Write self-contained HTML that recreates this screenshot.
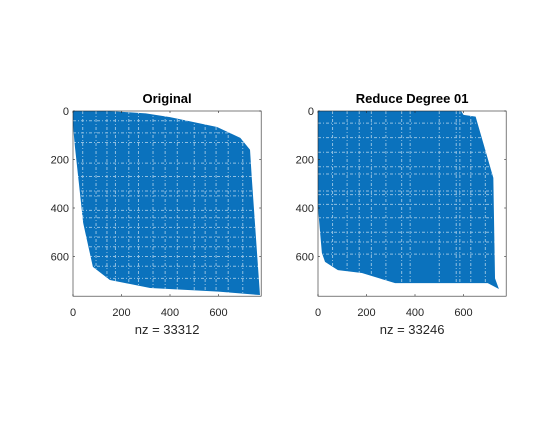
<!DOCTYPE html>
<html><head><meta charset="utf-8"><style>
body{margin:0;background:#fff;width:560px;height:420px;overflow:hidden}
svg text{font-family:"Liberation Sans",Arial,sans-serif;fill:#262626}
</style></head><body>
<svg width="560" height="420">
<g id="p1"></g>
<g id="p2"></g>
</svg>
<script>
// sparsity outlines in data units [col,row]
const origOutline=[[0,0],[150,0],[300,10],[400,25],[594,66],[690,111],[730,160],[737,272],[771,759],[600,745],[318,730],[152,697],[82,643],[42,462],[8,148],[0,60]];
const redOutline=[[0,0],[590,0],[600,16],[650,23],[723,276],[730,690],[746,734],[700,710],[318,710],[181,668],[82,656],[29,622],[16,585],[0,400]];
const origGapRows=[40,90,130,215,270,330,350,410,440,480,520,560,600,640,690];
const origGapCols=[40,95,140,175,230,270,330,380,430,500,545,590,640,700];
const redGapRows=[50,110,170,230,260,330,345,385,440,500,540,590];
const redGapCols=[60,120,170,220,280,345,380,500,570,585,630,690];
const ticks=[0,200,400,600];
const plots=[
 {id:'p1',x0:73,title:'Original',nz:'nz = 33312',outline:origOutline,rows:origGapRows,cols:origGapCols},
 {id:'p2',x0:318,title:'Reduce Degree 01',nz:'nz = 33246',outline:redOutline,rows:redGapRows,cols:redGapCols}
];
const NS='http://www.w3.org/2000/svg';
const y0=111, N=776, S=0.2425;
function mk(g,t,a){const e=document.createElementNS(NS,t);for(const k in a)e.setAttribute(k,a[k]);g.appendChild(e);return e;}
plots.forEach(p=>{
 const g=document.getElementById(p.id);
 const sx=c=>p.x0+c*S, sy=r=>y0+r*S;
 const W=N*S;
 const cp=mk(g,'clipPath',{id:'c'+p.id});
 mk(cp,'polygon',{points:p.outline.map(d=>sx(d[0])+','+sy(d[1])).join(' ')});
 const poly=mk(g,'polygon',{points:p.outline.map(d=>sx(d[0])+','+sy(d[1])).join(' '),fill:'#0b72bd'});
 
 
 const gg=mk(g,'g',{'clip-path':'url(#c'+p.id+')',stroke:'#fff','stroke-width':'1',opacity:'0.55','stroke-dasharray':'3 2 1 2'});
 p.rows.forEach(r=>{const l=mk(gg,'line',{x1:sx(0),x2:sx(N),y1:sy(r),y2:sy(r)});
  
  });
 p.cols.forEach(c=>{const l=mk(gg,'line',{x1:sx(c),x2:sx(c),y1:sy(0),y2:sy(N)});
  
  });
 const box=mk(g,'rect',{x:p.x0,y:y0,width:W,height:W-3,fill:'none',stroke:'#262626','stroke-width':'0.6'});
 
 
 const bottom=y0+W-3;
 ticks.forEach(t=>{
  mk(g,'line',{x1:sx(t),x2:sx(t),y1:bottom,y2:bottom-2,stroke:'#262626','stroke-width':'0.6'});
  mk(g,'line',{x1:sx(t),x2:sx(t),y1:y0,y2:y0+2,stroke:'#262626','stroke-width':'0.6'});
  mk(g,'line',{x1:p.x0,x2:p.x0+2,y1:sy(t),y2:sy(t),stroke:'#262626','stroke-width':'0.6'});
  mk(g,'line',{x1:p.x0+W,x2:p.x0+W-2,y1:sy(t),y2:sy(t),stroke:'#262626','stroke-width':'0.6'});
  const xt=mk(g,'text',{x:sx(t),y:bottom+20,'text-anchor':'middle','font-size':'11'});xt.textContent=t;
  
  
  const yt=mk(g,'text',{x:p.x0-4,y:sy(t)+4,'text-anchor':'end','font-size':'11'});yt.textContent=t;
  
  
 });
 const ti=mk(g,'text',{x:p.x0+W/2,y:103,'text-anchor':'middle','font-size':'13','font-weight':'bold'});ti.textContent=p.title;
 ti.style.fill='#000';
 
 
 const xl=mk(g,'text',{x:p.x0+W/2,y:334,'text-anchor':'middle','font-size':'13'});xl.textContent=p.nz;
 
 
});
</script>
</body></html>
